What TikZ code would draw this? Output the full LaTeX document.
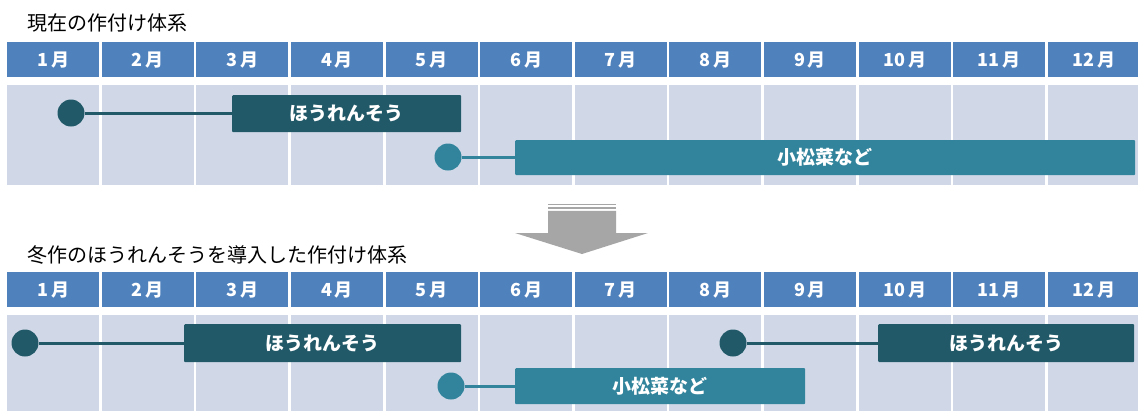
\documentclass[tikz,border=0pt]{standalone}
\usepackage{fontspec}
\newfontfamily\jp{Noto Sans CJK JP}
\definecolor{hblue}{HTML}{4F81BD}
\definecolor{cellgray}{HTML}{D0D8E8}
\definecolor{spin}{HTML}{215968}
\definecolor{koma}{HTML}{31849B}
\definecolor{arrgray}{HTML}{A6A6A6}
\tikzset{
  hdr/.style={rectangle, fill=hblue, text=white, font=\jp\bfseries\fontsize{18}{18}\selectfont,
    minimum width=92pt, minimum height=35pt, inner sep=0pt, anchor=north west},
  cellA/.style={rectangle, fill=cellgray, minimum width=92pt, minimum height=100pt, inner sep=0pt, anchor=north west},
  cellB/.style={rectangle, fill=cellgray, minimum width=92pt, minimum height=97pt, inner sep=0pt, anchor=north west},
  title/.style={font=\jp\fontsize{20}{20}\selectfont, inner sep=0pt, anchor=west, text=black},
  bar/.style={rectangle, rounded corners=1pt, text=white, font=\jp\bfseries\fontsize{19}{19}\selectfont,
    inner sep=0pt, anchor=north west},
  dot/.style={circle, minimum size=27pt, inner sep=0pt},
  conn/.style={line width=3pt},
}
\begin{document}
\begin{tikzpicture}[x=1pt,y=-1pt]
\useasboundingbox (0,0) rectangle (1138,410);
\fill[white] (0,0) rectangle (1138,410);
% titles
\node[title] (t1) at (27,23) {現在の作付け体系};
\node[title] (t2) at (27,255) {冬作のほうれんそうを導入した作付け体系};
% grid
\foreach \i in {1,...,12}{
  \pgfmathsetmacro\xl{7+94.6*(\i-1)}
  \node[hdr] (ha\i) at (\xl,42) {\i\,月};
  \node[cellA] (ca\i) at (\xl,85) {};
  \node[hdr] (hb\i) at (\xl,272) {\i\,月};
  \node[cellB] (cb\i) at (\xl,315) {};
}
% top bars
\node[bar, fill=spin, minimum width=229pt, minimum height=37pt] (sa1) at (232,95) {ほうれんそう};
\node[dot, fill=spin] (da1) at (71,113) {};
\draw[conn, spin] (da1.east) -- (da1.east -| sa1.west);
\node[bar, fill=koma, minimum width=620pt, minimum height=35pt] (ka1) at (515,140) {小松菜など};
\node[dot, fill=koma] (db1) at (448,157) {};
\draw[conn, koma] (db1.east) -- (db1.east -| ka1.west);
% arrow
\fill[arrgray] (548,204) rectangle (616,205.4);
\fill[arrgray] (548,206.8) rectangle (616,209.4);
\fill[arrgray] (548,210.8) -- (616,210.8) -- (616,233) -- (648,233) -- (582,254) -- (515,233) -- (548,233) -- cycle;
% bottom bars
\node[bar, fill=spin, minimum width=277pt, minimum height=38pt] (sa2) at (184,324) {ほうれんそう};
\node[dot, fill=spin] (da2) at (25,343) {};
\draw[conn, spin] (da2.east) -- (da2.east -| sa2.west);
\node[bar, fill=spin, minimum width=256pt, minimum height=38pt] (sa3) at (878,324) {ほうれんそう};
\node[dot, fill=spin] (da3) at (733,343) {};
\draw[conn, spin] (da3.east) -- (da3.east -| sa3.west);
\node[bar, fill=koma, minimum width=290pt, minimum height=36pt] (kb2) at (515,368) {小松菜など};
\node[dot, fill=koma] (db2) at (451,386) {};
\draw[conn, koma] (db2.east) -- (db2.east -| kb2.west);
\end{tikzpicture}
\end{document}
